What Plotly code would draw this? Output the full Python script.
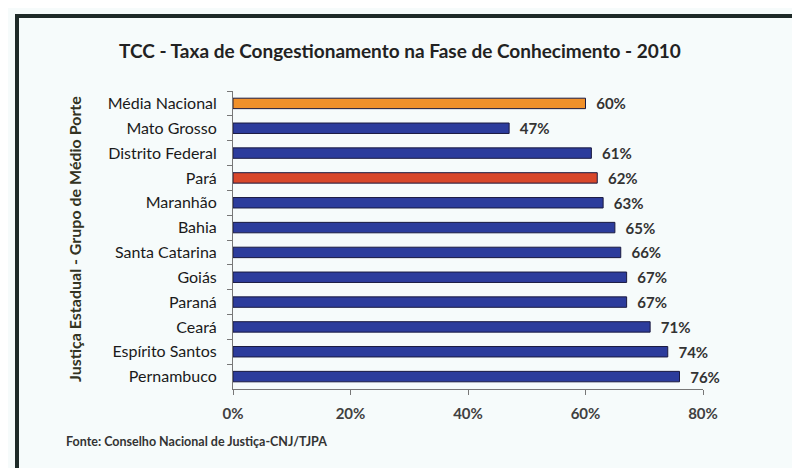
import plotly.graph_objects as go

categories = ["Média Nacional", "Mato Grosso", "Distrito Federal", "Pará", "Maranhão",
              "Bahia", "Santa Catarina", "Goiás", "Paraná", "Ceará",
              "Espírito Santos", "Pernambuco"]
values = [60, 47, 61, 62, 63, 65, 66, 67, 67, 71, 74, 76]
bar_colors = ["#f0902a", "#2c3c9c", "#2c3c9c", "#d8472a", "#2c3c9c", "#2c3c9c",
              "#2c3c9c", "#2c3c9c", "#2c3c9c", "#2c3c9c", "#2c3c9c", "#2c3c9c"]
x_ticks = [0, 20, 40, 60, 80]
x_tick_labels = ["0%", "20%", "40%", "60%", "80%"]

# the page places the figure ~8px right/down; compensate
OX, OY = 8, 7
W, H = 800, 468
L, R, T, B = 233 - OX, 97 + OX, 90 - OY, 80 + OY
pw, ph = W - L - R, H - T - B

def px(x):
    return (x - OX - L) / pw

def py(y):
    return 1 - (y - OY - T) / ph

FONT = "Lato"

fig = go.Figure(go.Bar(
    x=values, y=categories, orientation="h",
    marker=dict(color=bar_colors, line=dict(color="#1a1a40", width=1)),
    text=[f"&nbsp;&nbsp;<b>{v}%</b>" for v in values], textposition="outside",
    textfont=dict(family=FONT, size=15, color="#333333"),
    constraintext="none",
    cliponaxis=False, width=0.42,
))

fig.update_layout(
    width=W, height=H,
    margin=dict(l=L, r=R, t=T, b=B),
    paper_bgcolor="#f6fbfb", plot_bgcolor="#f6fbfb",
    showlegend=False,
    font=dict(family=FONT, color="#333333"),
    xaxis=dict(range=[0, 80], tickvals=x_ticks, ticktext=[f"<b>{t}</b>" for t in x_tick_labels],
               showgrid=False, zeroline=False, showline=True, linecolor="#777777",
               linewidth=1, ticks="outside", ticklen=5, tickcolor="#777777",
               tickfont=dict(family=FONT, size=15, color="#404040"), ticklabelstandoff=6),
    yaxis=dict(autorange="reversed", showgrid=False, showline=True, linecolor="#777777",
               linewidth=1, ticks="outside", ticklen=5, tickcolor="#777777",
               tickson="boundaries",
               tickfont=dict(family=FONT, size=16, color="#1a1a1a"),
               ticklabelstandoff=12),
    shapes=[
        dict(type="line", xref="paper", yref="paper", x0=px(16), x1=px(800), y0=py(15), y1=py(15),
             line=dict(color="#1e2a28", width=4)),
        dict(type="line", xref="paper", yref="paper", x0=px(17), x1=px(17), y0=py(13), y1=py(468),
             line=dict(color="#1e2a28", width=4)),
    ],
    annotations=[
        dict(text="<b>TCC - Taxa de Congestionamento na Fase de Conhecimento - 2010</b>",
             xref="paper", yref="paper", x=px(400), y=py(50), showarrow=False,
             font=dict(family=FONT, size=19, color="#222222"), xanchor="center", yanchor="middle"),
        dict(text="<b>Justiça Estadual - Grupo de Médio Porte</b>", textangle=-90,
             xref="paper", yref="paper", x=px(75), y=py(238), showarrow=False,
             font=dict(family=FONT, size=16, color="#333322"), xanchor="center", yanchor="middle"),
        dict(text="<b>Fonte: Conselho Nacional de Justiça-CNJ/TJPA</b>",
             xref="paper", yref="paper", x=px(64), y=py(440), showarrow=False,
             font=dict(family=FONT, size=12.5, color="#333333"), xanchor="left", yanchor="middle"),
    ],
)

fig.write_html("out.html")
